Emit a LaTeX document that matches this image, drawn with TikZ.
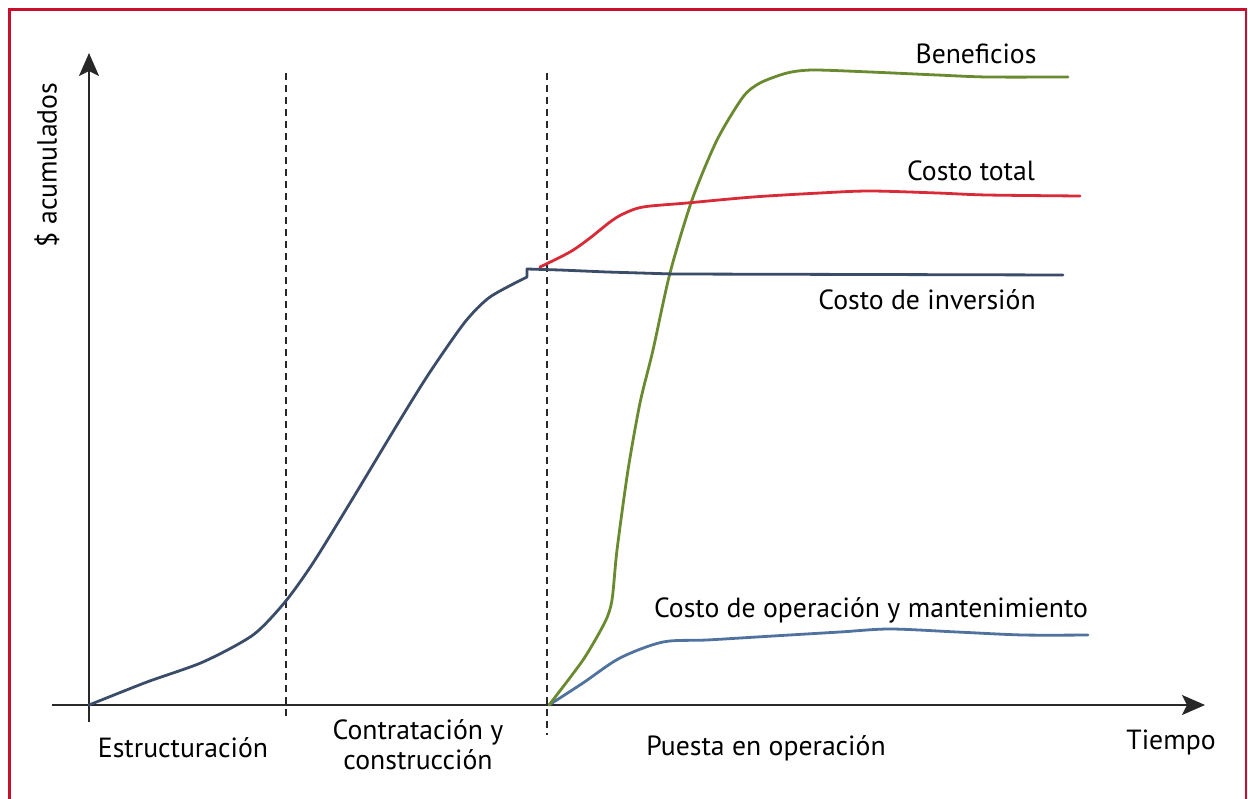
\documentclass[tikz,border=0pt]{standalone}
\usepackage{fontspec}
\setmainfont{PT Sans}
\usetikzlibrary{arrows.meta}
\definecolor{frame}{RGB}{200,16,46}
\definecolor{inv}{RGB}{58,76,104}
\definecolor{tot}{RGB}{216,43,55}
\definecolor{ben}{RGB}{106,138,48}
\definecolor{ope}{RGB}{80,114,158}
\definecolor{axc}{RGB}{40,40,40}
\tikzset{
  axisline/.style={draw=axc,line width=1.5pt},
  divider/.style={draw=axc,line width=1.3pt,dash pattern=on 7pt off 5pt},
  curve/.style={line width=2.8pt,line join=round,line cap=round},
  lbl/.style={inner sep=0pt,font=\fontsize{27.7}{30}\selectfont,text=black},
}
\begin{document}
\begin{tikzpicture}[x=1pt,y=-1pt]
\useasboundingbox (0,0) rectangle (1248,799);
\fill[white] (0,0) rectangle (1248,799);
\begin{scope}
\clip (0,0) rectangle (1248,799);
\draw[frame,line width=2.2pt] (9.5,9.5) rectangle (1246,830);
\end{scope}
% coordinates
\coordinate (O) at (89,705);
\coordinate (ytop) at (89,53);
\coordinate (ybot) at (89,722);
\coordinate (xl) at (52,705);
\coordinate (xr) at (1205,705);
\coordinate (d1t) at (286,73);
\coordinate (d1b) at (286,718);
\coordinate (d2t) at (547,73);
\coordinate (d2b) at (547,735);
% dividers
\draw[divider] (d1t) -- (d1b);
\draw[divider] (d2t) -- (d2b);
% axes
\draw[axisline,-{Stealth[length=23pt,width=20pt,inset=5pt]}] (ybot) -- (ytop);
\draw[axisline,-{Stealth[length=23pt,width=20pt,inset=5pt]}] (xl) -- (xr);
% curves
\draw[curve,ope] plot[smooth,tension=0.5] coordinates {(549,705) (583,683) (620,658) (663,642) (707,640) (773,636) (840,632) (890,629) (957,632) (1023,635) (1088,635)};
\draw[curve,ben] plot[smooth,tension=0.45] coordinates {(549,705) (583,660) (605,622) (612,600) (617,550) (628,470) (640,403) (653,350) (670,273) (692,200) (717,140) (743,97) (760,83) (787,73) (813,70) (870,72) (937,75) (987,77) (1068,77)};
\draw[curve,tot] plot[smooth,tension=0.5] coordinates {(540,267) (570,252) (590,238) (610,222) (623,214) (643,207) (687,203) (753,197) (820,193) (870,191) (937,193) (987,195) (1080,196)};
\draw[curve,inv] plot[smooth,tension=0.45] coordinates {(89,705) (147,682) (203,662) (253,635) (285,602) (313,563) (350,503) (400,420) (430,372) (465,322) (490,297) (527,277)}
  -- (527,269) -- (560,270) -- (607,272) -- (673,274) -- (1063,275);
% labels
\node[lbl] (ben) at (976,54) {Beneficios};
\node[lbl] (tot) at (971,171) {Costo total};
\node[lbl] (inv) at (927,300) {Costo de inversión};
\node[lbl] (ope) at (871,610) {Costo de operación y mantenimiento};
\node[lbl] (est) at (183,748) {Estructuración};
\node[lbl,align=center] (con) at (418,745) {Contratación y\\construcción};
\node[lbl] (pue) at (766,748) {Puesta en operación};
\node[lbl] (tie) at (1171,742) {Tiempo};
\node[lbl,rotate=90] (yac) at (47,165) {\$ acumulados};
\end{tikzpicture}
\end{document}
